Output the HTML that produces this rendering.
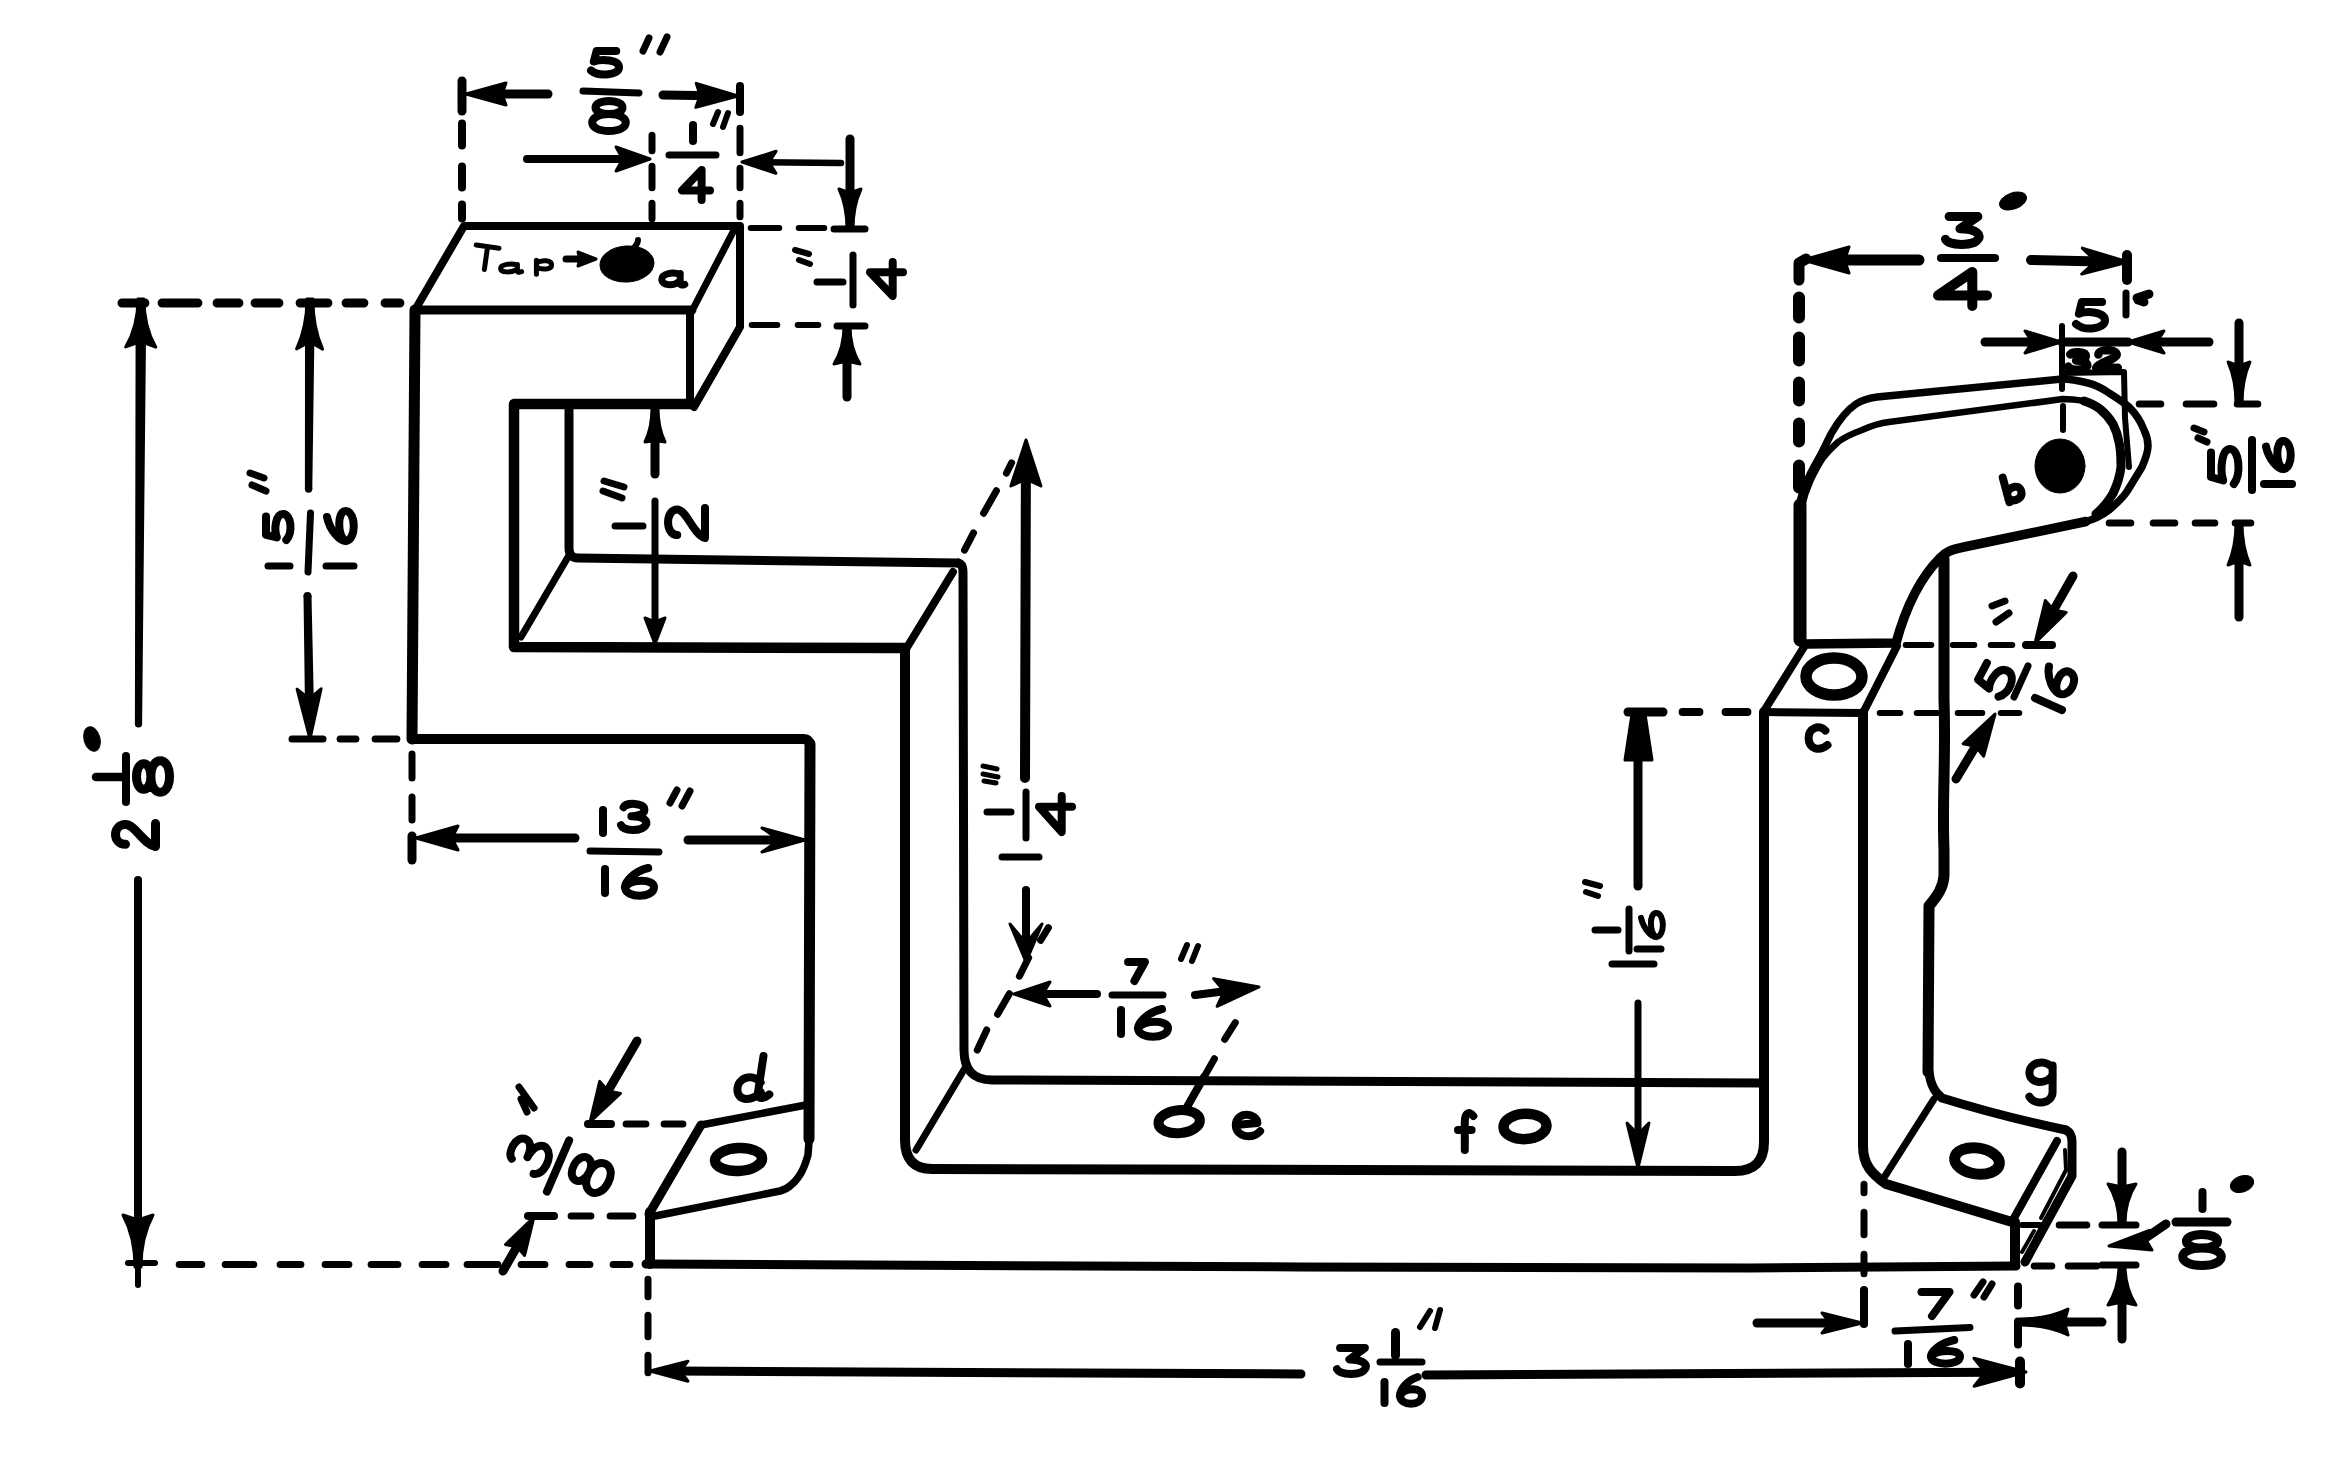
<!DOCTYPE html>
<html><head><meta charset="utf-8"><title>Bracket drawing</title>
<style>html,body{margin:0;padding:0;background:#fff;font-family:"Liberation Sans",sans-serif}svg{display:block}</style>
</head><body>
<svg width="2328" height="1460" viewBox="0 0 2328 1460" fill="none" stroke="#000" stroke-linecap="round" stroke-linejoin="round">
<rect x="0" y="0" width="2328" height="1460" fill="#fff" stroke="none"/>
<path d="M415 310L464 226L739 226" stroke-width="8" fill="none" />
<path d="M415 310L692 310" stroke-width="9" fill="none" />
<path d="M733 232L694 307" stroke-width="7" fill="none" />
<path d="M740 226L740 327L694 407" stroke-width="8" fill="none" />
<path d="M690 310L690 404" stroke-width="8" fill="none" />
<path d="M415 310L412 739" stroke-width="11" fill="none" />
<path d="M412 739L803 739Q810 739 810 746" stroke-width="10" fill="none" />
<path d="M810 744L809 1139" stroke-width="11" fill="none" />
<path d="M809 1137C809 1148 808 1152 808 1155C806 1162 804 1168 801 1173C798 1178 795 1182 791 1185C788 1188 784 1190 780 1191L655 1216" stroke-width="7.5" fill="none" />
<path d="M694 404L514 404L514 647L905 648" stroke-width="10.5" fill="none" />
<path d="M569 410L569 548Q569 558 578 558L958 563" stroke-width="9" fill="none" />
<path d="M568 557L521 637" stroke-width="7" fill="none" />
<path d="M953 572L906 649" stroke-width="8" fill="none" />
<path d="M958 563Q963 564 963 572L964 1050Q964 1080 992 1080L1762 1083" stroke-width="9" fill="none" />
<path d="M905 649L905 1140Q905 1169 932 1169L1735 1171Q1764 1171 1764 1142L1764 712" stroke-width="10" fill="none" />
<path d="M916 1150L965 1068" stroke-width="7" fill="none" />
<path d="M806 1105L701 1125" stroke-width="7.5" fill="none" />
<path d="M701 1125L649 1214" stroke-width="9" fill="none" />
<path d="M650 1212L650 1264" stroke-width="10" fill="none" />
<path d="M646 1264L1300 1267L1750 1268L2016 1266" stroke-width="9" fill="none" />
<ellipse cx="738.5" cy="1159.5" rx="23.5" ry="11.5" stroke-width="10.5" transform="rotate(-3 738 1159)"/>
<path d="M1764 712L1862 713" stroke-width="8" fill="none" />
<path d="M1764 711L1804 647M1897 646L1863 713" stroke-width="8" fill="none" />
<path d="M1863 713L1863 1146C1863 1165 1872 1174 1886 1184L2012 1222" stroke-width="10" fill="none" />
<ellipse cx="1834" cy="676.5" rx="28" ry="18.5" stroke-width="11.5"/>
<path d="M1800 640L1800 505" stroke-width="13" fill="none" />
<path d="M1800 507C1803 488 1808 480 1811 475L1831 434C1840 418 1850 408 1856 404C1862 400 1870 398 1877 397L2062 379C2072 379 2080 381 2088 383C2096 385 2102 388 2109 393C2117 398 2123 402 2129 407C2136 414 2141 422 2144 430C2147 436 2148 441 2148 446C2148 453 2145 460 2142 467L2127 491.5C2122 499 2115 505 2109 510C2100 517 2092 520 2084 522" stroke-width="7.5" fill="none" />
<path d="M2086 521.5L1964 547C1950 550 1946 552 1940 558C1920 578 1905 610 1896 643L1806 644Q1800 644 1800 638" stroke-width="9.5" fill="none" />
<path d="M1800 507C1804 488 1811 473 1826 449" stroke-width="10" fill="none" />
<path d="M1811 475C1820 460 1829 450 1838 442C1846 436 1854 433 1862 430C1871 426 1880 423 1889 422L2063 399C2071 399 2078 400 2084 401" stroke-width="6.5" fill="none" />
<path d="M2084 401C2090 403 2096 406 2100 409C2106 414 2110 419 2113 424C2116 430 2118 436 2119 442C2121 450 2121 458 2121 467C2120 476 2117 485 2113 493.5C2108 502 2103 508 2096 514" stroke-width="9" fill="none" />
<path d="M2062 326L2062 389M2063 406L2063 430" stroke-width="6" fill="none" />
<path d="M2062 373L2124 372L2125 418L2129 467" stroke-width="6" fill="none" />
<ellipse cx="2060" cy="466" rx="25" ry="27" fill="#000" stroke-width="1"/>
<path d="M1944 559L1944 700C1946 760 1942 800 1944 850L1944 876C1943 888 1938 895 1929 906L1928 1072" stroke-width="11" fill="none" />
<path d="M1929 1072Q1931 1090 1942 1098Q2000 1116 2066 1130" stroke-width="9" fill="none" />
<path d="M1934 1099L1885 1176" stroke-width="7" fill="none" />
<path d="M2066 1130Q2072 1133 2072 1142L2072 1176L2025 1262" stroke-width="9" fill="none" />
<path d="M2057 1141L2014 1218" stroke-width="8" fill="none" />
<path d="M2015 1222L2015 1264" stroke-width="10" fill="none" />
<path d="M2065 1150L2066 1170L2041 1218" stroke-width="4" fill="none" />
<path d="M2022 1225L2040 1225" stroke-width="6" fill="none" />
<path d="M2022 1252L2034 1231" stroke-width="4" fill="none" />
<ellipse cx="1977" cy="1161" rx="22.5" ry="13" stroke-width="11" transform="rotate(8 1977 1161)"/>
<ellipse cx="1179.2" cy="1121.7" rx="20.8" ry="11.5" stroke-width="10" transform="rotate(-5 1179 1122)"/>
<ellipse cx="1525" cy="1126.4" rx="21.5" ry="12.7" stroke-width="10.5" transform="rotate(-3 1525 1126)"/>
<path d="M1204 1077L1187 1107" stroke-width="8" fill="none" />
<ellipse cx="627" cy="264" rx="27" ry="18" fill="#000" stroke-width="1" transform="rotate(-4 627 264)"/>
<path d="M632 250C636 246 638 243 638 240" stroke-width="6" fill="none" />
<path d="M462 81L462 111" stroke-width="9.0"/>
<path d="M462.0 123.6L462.0 145.4M462.0 166.6L462.0 187.4M462.0 204.6L462.0 218.4" stroke-width="8.0"/>
<path d="M740 86L740 112" stroke-width="8.0"/>
<path d="M740.0 128.2L740.0 152.8M740.0 168.2L740.0 187.8M740.0 203.2L740.0 216.8" stroke-width="7.0"/>
<path d="M548 94L490.0 94.0" stroke-width="9.0"/>
<path d="M466.0 94.0L506.0 105.0L502.0 94.0L506.0 83.0Z" stroke-width="3" fill="#000"/>
<path d="M663 95L712.8 95.7" stroke-width="9.0"/>
<path d="M738.0 96.0L696.2 83.4L700.2 95.5L695.8 107.4Z" stroke-width="3" fill="#000"/>
<path d="M616.2 51.0L596.6 51.0L593.8 61.5C602.2 58.5 619.0 60.0 619.0 67.5C619.0 75.0 599.4 77.2 591.0 70.5" stroke-width="8"/>
<path d="M583 91L639 93" stroke-width="7.0"/>
<path d="M609.0 114.1C591.0 114.1 591.0 101.0 609.0 101.0C627.0 101.0 627.0 114.1 609.0 114.1C586.6 114.1 586.6 131.0 609.0 131.0C631.4 131.0 631.4 114.1 609.0 114.1" stroke-width="8"/>
<path d="M649 38L643 51M667 37L660 52" stroke-width="7"/>
<path d="M652.0 135.2L652.0 150.8M652.0 166.2L652.0 187.8M652.0 203.2L652.0 218.8" stroke-width="7.0"/>
<path d="M527 159L629.6 159.0" stroke-width="8.0"/>
<path d="M650.0 159.0L616.0 147.0L622.8 159.0L616.0 171.0Z" stroke-width="3" fill="#000"/>
<path d="M841 163L762.4 162.2" stroke-width="6.5"/>
<path d="M742.0 162.0L775.9 173.3L769.2 162.3L776.1 151.3Z" stroke-width="3" fill="#000"/>
<path d="M693.0 125.0L693.0 141.0" stroke-width="8"/>
<path d="M669 155L716 155" stroke-width="7.0"/>
<path d="M701.6 200.0L701.6 170.0L682.0 190.6L710.0 190.6" stroke-width="8"/>
<path d="M718 112L713 124M728 113L723 127" stroke-width="6"/>
<path d="M850 139L850.0 204.2" stroke-width="9.0"/>
<path d="M853.0 229.0Q853.0 206.1 861.0 189.0L850.0 192.8L839.0 189.0Q847.0 206.1 847.0 229.0Z" stroke-width="3" fill="#000"/>
<path d="M834 229L865 229" stroke-width="7.0"/>
<path d="M750.7 228.0L779.3 228.0M798.7 228.0L824.3 228.0" stroke-width="6.0"/>
<path d="M751.7 325.0L777.3 325.0M797.7 325.0L818.3 325.0" stroke-width="6.0"/>
<path d="M837 326L865 326" stroke-width="7.0"/>
<path d="M847 397L847.0 349.6" stroke-width="9.0"/>
<path d="M844.0 326.0Q844.0 347.8 834.0 364.0L847.0 361.1L860.0 364.0Q850.0 347.8 850.0 326.0Z" stroke-width="3" fill="#000"/>
<path d="M817 282L843 282" stroke-width="7.0"/>
<path d="M853 255L853 305" stroke-width="7.0"/>
<path d="M903.0 272.2L870.0 272.2L892.7 296.0L892.7 262.0" stroke-width="8"/>
<path d="M795 250L809 254M799 260L810 264" stroke-width="6"/>
<path d="M122.0 303.0L144.9 303.0M162.1 303.0L197.9 303.0M217.1 303.0L238.9 303.0M255.1 303.0L278.9 303.0M300.1 303.0L327.9 303.0M346.1 303.0L363.9 303.0M385.1 303.0L399.9 303.0" stroke-width="9.0"/>
<path d="M141.1 724.0L145.1 328.6L136.6 328.6L135.9 724.0Z" stroke-width="2" fill="#000"/>
<circle cx="138.5" cy="724.0" r="3.6" fill="#000" stroke="none"/>
<path d="M138.0 299.0Q137.9 326.3 125.7 346.9L140.8 341.5L155.7 347.1Q143.9 326.3 144.0 299.0Z" stroke-width="3" fill="#000"/>
<path d="M311.3 489.0L313.5 329.8L306.0 329.8L305.9 489.0Z" stroke-width="2" fill="#000"/>
<circle cx="308.6" cy="489.0" r="3.7" fill="#000" stroke="none"/>
<path d="M307.0 299.0Q306.8 327.4 296.6 348.9L309.7 341.8L322.6 349.1Q312.8 327.4 313.0 299.0Z" stroke-width="3" fill="#000"/>
<path d="M304.5 596.1L306.0 709.1L313.0 708.9L310.5 595.9Z" stroke-width="2" fill="#000"/>
<circle cx="307.5" cy="596.0" r="4.0" fill="#000" stroke="none"/>
<path d="M310.0 739.0L321.1 688.8L309.3 699.0L297.1 689.2Z" stroke-width="3" fill="#000"/>
<path d="M310.5 513L308 572" stroke-width="7.0"/>
<path d="M268 566L290 566" stroke-width="7.0"/>
<path d="M266.0 516.6L266.0 534.8L276.9 537.4C273.8 529.6 275.4 514.0 283.2 514.0C291.0 514.0 293.3 532.2 286.3 540.0" stroke-width="8"/>
<path d="M326 566L354 566" stroke-width="7.0"/>
<path d="M327.0 517.0C330.4 532.0 340.5 541.0 345.6 541.0C356.5 541.0 356.5 511.0 345.6 511.0C337.1 511.0 337.1 535.0 345.6 541.0" stroke-width="8"/>
<path d="M250 473L264 478M252 485L266 491" stroke-width="7"/>
<path d="M292 739L323 739" stroke-width="7.0"/>
<path d="M340.1 739.0L355.9 739.0M375.1 739.0L396.9 739.0" stroke-width="7.0"/>
<path d="M412.0 754.1L412.0 777.9M412.0 797.1L412.0 819.9M412.0 839.1L412.0 856.9" stroke-width="7.0"/>
<path d="M138 880L138 1240" stroke-width="8.0"/>
<path d="M141.0 1267.0Q141.0 1237.5 153.0 1215.0L138.0 1220.0L123.0 1215.0Q135.0 1237.5 135.0 1267.0Z" stroke-width="3" fill="#000"/>
<path d="M128 1263L155 1263" stroke-width="6.0"/>
<path d="M138 1262L138 1285" stroke-width="6.0"/>
<path d="M125.5 844.2C112.2 844.2 112.2 824.6 125.5 824.6C135.5 824.6 143.0 844.2 155.5 846.5L155.5 823.5" stroke-width="9"/>
<path d="M96 777L124 777" stroke-width="8.5"/>
<path d="M126 756L126 802" stroke-width="8.0"/>
<path d="M150.9 776.5C150.9 793.5 136.5 793.5 136.5 776.5C136.5 759.5 150.9 759.5 150.9 776.5C150.9 797.6 169.5 797.6 169.5 776.5C169.5 755.4 150.9 755.4 150.9 776.5" stroke-width="9"/>
<ellipse cx="92" cy="739" rx="8" ry="12.5" fill="#000" stroke-width="1" transform="rotate(-15 92 739)"/>
<path d="M179.2 1264.5L201.8 1264.5M225.2 1264.5L253.8 1264.5M280.1 1264.5L300.9 1264.5M325.1 1264.5L348.9 1264.5M371.1 1264.5L397.9 1264.5M422.1 1264.5L445.9 1264.5M467.1 1264.5L497.9 1264.5M521.1 1264.5L544.9 1264.5M569.1 1264.5L589.9 1264.5M613.1 1264.5L629.9 1264.5" stroke-width="7.0"/>
<path d="M575 838L441.2 838.0" stroke-width="9.0"/>
<path d="M416.0 838.0L458.0 850.0L451.7 838.0L458.0 826.0Z" stroke-width="3" fill="#000"/>
<path d="M688 840L779.2 840.0" stroke-width="9.0"/>
<path d="M805.0 840.0L762.0 828.0L779.2 840.0L762.0 852.0Z" stroke-width="3" fill="#000"/>
<path d="M412 836L412 860" stroke-width="9.0"/>
<path d="M603.0 810.0L603.0 833.0" stroke-width="8"/>
<path d="M623.6 807.2C626.2 802.4 644.4 802.4 644.4 809.7C644.4 815.4 634.0 816.2 631.4 816.2C644.4 816.2 648.3 821.9 645.7 825.1C641.8 831.6 623.6 831.6 621.0 825.1" stroke-width="8"/>
<path d="M590 851L659 852" stroke-width="7.0"/>
<path d="M605.0 869.0L605.0 893.0" stroke-width="8"/>
<path d="M648.2 868.0C633.7 871.5 625.0 882.0 625.0 887.2C625.0 898.6 654.0 898.6 654.0 887.2C654.0 878.5 630.8 878.5 625.0 887.2" stroke-width="8"/>
<path d="M677 790L670 803M690 791L682 806" stroke-width="7"/>
<path d="M655 474L655.0 429.2" stroke-width="9.0"/>
<path d="M652.0 408.0Q652.0 427.6 645.0 442.0L655.0 440.4L665.0 442.0Q658.0 427.6 658.0 408.0Z" stroke-width="3" fill="#000"/>
<path d="M655 501L655 625" stroke-width="7.0"/>
<path d="M655.0 644.0L665.0 618.0L655.0 621.9L645.0 618.0Z" stroke-width="3" fill="#000"/>
<path d="M615 526L643 526" stroke-width="7.0"/>
<path d="M677.2 535.0C665.0 535.0 665.0 509.5 677.2 509.5C686.5 509.5 693.4 535.0 705.0 538.0L705.0 508.0" stroke-width="8"/>
<path d="M604 481L624 487M603 491L622 498" stroke-width="7"/>
<path d="M1025 778L1025.9 467.6" stroke-width="10.0"/>
<path d="M1026.0 440.0L1010.9 486.0L1025.9 479.1L1040.9 486.0Z" stroke-width="3" fill="#000"/>
<path d="M1026 890L1026 940" stroke-width="8.0"/>
<path d="M1026.0 962.0L1042.0 924.0L1026.0 943.0L1010.0 924.0Z" stroke-width="3" fill="#000"/>
<path d="M964.5 550.2L973.5 532.8M983.6 513.3L996.4 490.7M1006.4 473.2L1011.6 462.8" stroke-width="7.0"/>
<path d="M977.3 1050.1L986.7 1029.9M997.6 1014.3L1009.4 993.7M1019.4 976.2L1028.6 957.8M1040.6 940.3L1048.4 927.7" stroke-width="7.0"/>
<path d="M1002 857L1039 857" stroke-width="7.0"/>
<path d="M987 812L1011 812" stroke-width="7.0"/>
<path d="M1026 792L1026 838" stroke-width="7.0"/>
<path d="M1072.0 806.8L1039.0 806.8L1061.7 832.0L1061.7 796.0" stroke-width="8"/>
<path d="M983 766L997 769M983 774L998 777M984 781L996 783" stroke-width="5"/>
<path d="M1097 994L1035.6 994.0" stroke-width="8.0"/>
<path d="M1014.0 994.0L1050.0 1006.0L1042.8 994.0L1050.0 982.0Z" stroke-width="3" fill="#000"/>
<path d="M1195 995L1232.8 990.3" stroke-width="8.0"/>
<path d="M1259.0 987.0L1213.6 978.6L1224.1 991.4L1217.1 1006.3Z" stroke-width="3" fill="#000"/>
<path d="M1128.1 962.0L1144.9 962.0L1134.4 981.0" stroke-width="8"/>
<path d="M1112 995L1163 995" stroke-width="7.0"/>
<path d="M1121.0 1010.0L1121.0 1034.0" stroke-width="8"/>
<path d="M1162.0 1009.0C1147.0 1012.5 1138.0 1023.0 1138.0 1028.2C1138.0 1039.6 1168.0 1039.6 1168.0 1028.2C1168.0 1019.5 1144.0 1019.5 1138.0 1028.2" stroke-width="8"/>
<path d="M1187 945L1181 959M1198 946L1192 961" stroke-width="6"/>
<path d="M1235.3 1022.7L1224.7 1039.3M1214.4 1058.7L1205.6 1074.3" stroke-width="7.0"/>
<path d="M1628 712L1663 712" stroke-width="9.0"/>
<path d="M1682.6 712.0L1699.4 712.0M1725.6 712.0L1747.4 712.0" stroke-width="8.0"/>
<path d="M1879.7 713.0L1900.3 713.0M1916.7 713.0L1937.3 713.0M1957.7 713.0L1982.3 713.0M2000.7 713.0L2019.3 713.0" stroke-width="6.0"/>
<path d="M1632 714L1645 714L1652 760L1625 760Z" stroke-width="3" fill="#000" />
<path d="M1638 760L1638 886" stroke-width="9.0"/>
<path d="M1638 1003L1638.0 1141.0" stroke-width="7.0"/>
<path d="M1638.0 1168.0L1649.0 1123.0L1638.0 1134.2L1627.0 1123.0Z" stroke-width="3" fill="#000"/>
<path d="M1595 930L1618 930" stroke-width="7.0"/>
<path d="M1629 909L1629 951" stroke-width="7.0"/>
<path d="M1637 949L1661 949" stroke-width="7.0"/>
<path d="M1641.0 917.8C1643.8 929.8 1652.0 937.0 1656.1 937.0C1665.1 937.0 1665.1 913.0 1656.1 913.0C1649.2 913.0 1649.2 932.2 1656.1 937.0" stroke-width="6"/>
<path d="M1612 964L1654 964" stroke-width="7.0"/>
<path d="M1585 882L1600 886M1586 892L1598 896" stroke-width="6"/>
<path d="M1905.7 645.0L1931.3 645.0M1952.7 645.0L1974.3 645.0M1990.7 645.0L2012.3 645.0" stroke-width="6.0"/>
<path d="M2073 576L2047.4 621.1" stroke-width="9.0"/>
<path d="M2035.0 643.0L2066.2 612.4L2053.6 610.1L2045.3 600.5Z" stroke-width="3" fill="#000"/>
<path d="M1956 779L1982.0 735.6" stroke-width="9.0"/>
<path d="M1995.0 714.0L1963.1 743.8L1975.6 746.4L1983.7 756.2Z" stroke-width="3" fill="#000"/>
<path d="M2026 645L2052 645" stroke-width="8.0"/>
<path d="M1799.0 297.4L1799.0 317.6M1799.0 337.4L1799.0 360.6M1799.0 382.4L1799.0 400.6M1799.0 423.4L1799.0 441.6M1799.0 465.4L1799.0 487.6" stroke-width="12.0"/>
<path d="M1799 280L1799 263L1806 259" stroke-width="11" fill="none" />
<path d="M1919 260L1830.6 260.0" stroke-width="11.0"/>
<path d="M1803.0 260.0L1849.0 273.0L1844.4 260.0L1849.0 247.0Z" stroke-width="3" fill="#000"/>
<path d="M2031 260L2100.4 261.4" stroke-width="10.0"/>
<path d="M2128.0 262.0L2082.3 248.1L2095.8 261.3L2081.7 274.0Z" stroke-width="3" fill="#000"/>
<path d="M2127 255L2127 280" stroke-width="10.0"/>
<path d="M1949.1 216.5L1977.9 216.5L1959.9 228.8C1977.9 228.8 1981.5 235.8 1977.9 239.2C1974.3 246.2 1949.1 246.2 1945.5 239.2" stroke-width="9"/>
<path d="M1941 258L1995 258" stroke-width="8.0"/>
<path d="M1972.3 306.0L1972.3 272.0L1938.0 295.4L1987.0 295.4" stroke-width="10"/>
<ellipse cx="2013" cy="201" rx="14" ry="8" fill="#000" stroke-width="1" transform="rotate(-20 2013 201)"/>
<path d="M1985 342L2039.4 342.0" stroke-width="9.0"/>
<path d="M2061.0 342.0L2025.0 331.0L2032.2 342.0L2025.0 353.0Z" stroke-width="3" fill="#000"/>
<path d="M2209 342L2149.6 342.0" stroke-width="9.0"/>
<path d="M2128.0 342.0L2164.0 353.0L2156.8 342.0L2164.0 331.0Z" stroke-width="3" fill="#000"/>
<path d="M2102.1 302.0L2081.8 302.0L2078.9 313.8C2087.6 310.4 2105.0 312.1 2105.0 320.6C2105.0 329.0 2084.7 331.5 2076.0 323.9" stroke-width="8"/>
<path d="M2070.2 354.4C2072.2 351.2 2085.8 351.2 2085.8 356.1C2085.8 359.9 2078.0 360.5 2076.1 360.5C2085.8 360.5 2088.7 364.3 2086.8 366.5C2083.8 370.8 2070.2 370.8 2068.2 366.5" stroke-width="8.5"/>
<path d="M2098.4 354.6C2098.4 348.8 2116.7 348.8 2116.7 354.6C2116.7 359.0 2098.4 362.3 2096.2 367.8L2117.8 367.8" stroke-width="8.5"/>
<path d="M2062 342L2128 342" stroke-width="9.0"/>
<path d="M2126 293L2126 315" stroke-width="7"/>
<path d="M2137 298L2149 294M2138 300L2144 302" stroke-width="9"/>
<path d="M2239 323L2239.0 378.0" stroke-width="9.0"/>
<path d="M2242.0 404.0Q2242.0 380.0 2250.0 362.0L2239.0 366.0L2228.0 362.0Q2236.0 380.0 2236.0 404.0Z" stroke-width="3" fill="#000"/>
<path d="M2139.2 404.0L2160.8 404.0M2186.2 404.0L2213.8 404.0M2237.2 404.0L2257.8 404.0" stroke-width="7.0"/>
<path d="M2109.2 523.0L2130.8 523.0M2153.2 523.0L2174.8 523.0M2195.2 523.0L2214.8 523.0M2235.2 523.0L2250.8 523.0" stroke-width="7.0"/>
<path d="M2239 617L2239.0 549.0" stroke-width="9.0"/>
<path d="M2236.0 523.0Q2236.0 547.0 2228.0 565.0L2239.0 561.0L2250.0 565.0Q2242.0 547.0 2242.0 523.0Z" stroke-width="3" fill="#000"/>
<path d="M588 1124L611 1124" stroke-width="8.0"/>
<path d="M626.1 1124.0L645.9 1124.0M664.1 1124.0L682.9 1124.0" stroke-width="7.0"/>
<path d="M637 1041L602.0 1101.2" stroke-width="9.0"/>
<path d="M590.0 1122.0L620.5 1093.4L608.1 1090.9L599.7 1081.4Z" stroke-width="3" fill="#000"/>
<path d="M528 1216L554 1216" stroke-width="8.0"/>
<path d="M571.1 1216.0L590.9 1216.0M610.1 1216.0L632.9 1216.0" stroke-width="7.0"/>
<path d="M503 1271L522.6 1236.8" stroke-width="9.0"/>
<path d="M534.0 1217.0L505.5 1244.5L517.0 1246.7L524.6 1255.4Z" stroke-width="3" fill="#000"/>
<path d="M648.0 1279.2L648.0 1296.8M648.0 1315.2L648.0 1336.8M648.0 1355.2L648.0 1372.8" stroke-width="7.0"/>
<path d="M1301 1374L672.8 1371.1" stroke-width="9.0"/>
<path d="M650.0 1371.0L688.0 1381.2L680.4 1371.1L688.0 1361.2Z" stroke-width="3" fill="#000"/>
<path d="M1426 1375L1994.8 1372.2" stroke-width="9.0"/>
<path d="M2026.0 1372.0L1973.9 1358.3L1985.4 1372.2L1974.1 1386.3Z" stroke-width="3" fill="#000"/>
<path d="M1340.1 1348.0L1364.9 1348.0L1349.4 1359.4C1364.9 1359.4 1368.0 1365.9 1364.9 1369.1C1361.8 1375.6 1340.1 1375.6 1337.0 1369.1" stroke-width="8"/>
<path d="M1395.5 1332.5L1395.5 1355.5" stroke-width="9"/>
<path d="M1380 1362L1422 1362" stroke-width="7.0"/>
<path d="M1384.5 1382.0L1384.5 1403.0" stroke-width="8"/>
<path d="M1417.6 1377.0C1406.6 1380.4 1400.0 1390.5 1400.0 1395.6C1400.0 1406.5 1422.0 1406.5 1422.0 1395.6C1422.0 1387.1 1404.4 1387.1 1400.0 1395.6" stroke-width="8"/>
<path d="M1430 1311L1420 1327M1440 1310L1435 1328" stroke-width="6"/>
<path d="M1864.0 1184.2L1864.0 1192.8M1864.0 1212.2L1864.0 1234.8M1864.0 1254.2L1864.0 1273.8" stroke-width="7.0"/>
<path d="M1864 1290L1864 1324" stroke-width="8.0"/>
<path d="M2018.0 1286.6L2018.0 1305.4M2018.0 1321.6L2018.0 1344.4" stroke-width="8.0"/>
<path d="M2020.0 1361.5L2020.0 1383.5" stroke-width="10.0"/>
<path d="M1757 1323L1838.0 1323.0" stroke-width="9.0"/>
<path d="M1862.0 1323.0L1822.0 1313.0L1830.0 1323.0L1822.0 1333.0Z" stroke-width="3" fill="#000"/>
<path d="M2102 1322L2049.6 1322.0" stroke-width="9.0"/>
<path d="M2020.0 1325.0Q2047.3 1325.0 2068.0 1335.0L2064.3 1322.0L2068.0 1309.0Q2047.3 1319.0 2020.0 1319.0Z" stroke-width="3" fill="#000"/>
<path d="M1921.5 1292.0L1949.5 1292.0L1932.0 1316.0" stroke-width="8"/>
<path d="M1895 1331L1970 1327.5" stroke-width="7.0"/>
<path d="M1908.0 1344.0L1908.0 1364.0" stroke-width="8"/>
<path d="M1954.2 1340.0C1939.7 1343.0 1931.0 1352.0 1931.0 1356.5C1931.0 1366.2 1960.0 1366.2 1960.0 1356.5C1960.0 1349.0 1936.8 1349.0 1931.0 1356.5" stroke-width="8"/>
<path d="M1974 1295L1983 1282M1984 1297L1992 1284" stroke-width="7"/>
<path d="M2122 1152L2122.0 1199.2" stroke-width="9.0"/>
<path d="M2125.0 1224.0Q2125.0 1201.1 2136.0 1184.0L2122.0 1187.0L2108.0 1184.0Q2119.0 1201.1 2119.0 1224.0Z" stroke-width="3" fill="#000"/>
<path d="M2102 1225L2136 1225" stroke-width="7.0"/>
<path d="M2059.2 1225.0L2086.8 1225.0" stroke-width="7.0"/>
<path d="M2034.2 1266.0L2051.8 1266.0M2068.2 1266.0L2096.8 1266.0" stroke-width="7.0"/>
<path d="M2102 1265L2136 1265" stroke-width="7.0"/>
<path d="M2122 1339L2122.0 1289.8" stroke-width="9.0"/>
<path d="M2119.0 1265.0Q2119.0 1287.9 2108.0 1305.0L2122.0 1302.0L2136.0 1305.0Q2125.0 1287.9 2125.0 1265.0Z" stroke-width="3" fill="#000"/>
<path d="M2202.5 1192.0L2202.5 1209.0" stroke-width="8"/>
<path d="M2176 1222L2227 1222" stroke-width="9.0"/>
<path d="M2202.0 1248.1C2181.3 1248.1 2181.3 1234.5 2202.0 1234.5C2222.7 1234.5 2222.7 1248.1 2202.0 1248.1C2176.3 1248.1 2176.3 1265.5 2202.0 1265.5C2227.7 1265.5 2227.7 1248.1 2202.0 1248.1" stroke-width="9"/>
<ellipse cx="2242" cy="1184" rx="12" ry="8" fill="#000" stroke-width="1" transform="rotate(-20 2242 1184)"/>
<path d="M2166 1224L2144 1239" stroke-width="9" fill="none" />
<path d="M2109.0 1246.0L2152.0 1250.1L2146.4 1240.7L2149.2 1230.3Z" stroke-width="3" fill="#000"/>
<path d="M476.2 245.0L499.0 248.2M487.6 246.6L484.4 269.4" stroke-width="5"/>
<path d="M517.4 265.2C511.1 262.8 500.6 264.4 500.6 268.4C500.6 272.5 511.1 273.3 517.4 269.2M517.4 264.4L517.4 270.9C517.4 272.5 519.5 272.5 521.6 271.7" stroke-width="5"/>
<path d="M536.4 260.2L536.4 274.2M536.4 263.0C542.1 259.2 551.6 260.2 551.6 264.9C551.6 269.6 542.1 270.5 536.4 266.8" stroke-width="5"/>
<path d="M566 259L585.2 259.0" stroke-width="7.0"/>
<path d="M596.0 259.0L578.0 252.0L579.8 259.0L578.0 266.0Z" stroke-width="3" fill="#000"/>
<path d="M680.2 274.8C673.3 271.2 661.8 273.6 661.8 279.6C661.8 285.5 673.3 286.7 680.2 280.8M680.2 273.6L680.2 283.1C680.2 285.5 682.5 285.5 684.8 284.3" stroke-width="7"/>
<path d="M2002.7 477.5L2009.4 502.2M2006.9 493.0C2010.4 485.4 2019.5 484.6 2021.2 490.8C2023.3 498.5 2015.0 502.4 2008.5 499.1" stroke-width="8"/>
<path d="M1825.4 730.6C1819.1 723.4 1808.6 728.8 1808.6 737.8C1808.6 748.6 1819.1 752.2 1827.5 745.0" stroke-width="8"/>
<path d="M760.6 1082.4C751.9 1072.8 737.4 1077.6 737.4 1089.6C737.4 1101.6 751.9 1101.6 760.6 1092.0M763.5 1056.0L757.7 1094.4C757.7 1099.2 763.5 1099.2 769.3 1094.4" stroke-width="8"/>
<path d="M1235.8 1125.1L1257.4 1123.0C1257.4 1112.8 1235.8 1110.8 1235.8 1125.1C1235.8 1137.4 1252.0 1139.5 1260.1 1131.2" stroke-width="8"/>
<path d="M1473.3 1116.0C1468.2 1110.0 1464.8 1114.0 1464.8 1122.0L1464.8 1150.0M1458.0 1130.0L1471.6 1130.0" stroke-width="8"/>
<path d="M2052.6 1067.8C2043.9 1058.2 2029.4 1063.0 2029.4 1072.6C2029.4 1084.6 2046.8 1084.6 2052.6 1075.0M2052.6 1065.4L2052.6 1091.8C2052.6 1103.8 2035.2 1106.2 2029.4 1096.6" stroke-width="8"/>
<path d="M2211.0 452.5L2211.0 477.0L2223.2 480.5C2219.8 470.0 2221.5 449.0 2230.2 449.0C2239.0 449.0 2241.6 473.5 2233.8 484.0" stroke-width="8"/>
<path d="M2252 440L2252 490" stroke-width="8.0"/>
<path d="M2264 484L2292 484" stroke-width="8.0"/>
<path d="M2266.0 446.6C2269.1 460.6 2278.5 469.0 2283.2 469.0C2293.3 469.0 2293.3 441.0 2283.2 441.0C2275.4 441.0 2275.4 463.4 2283.2 469.0" stroke-width="8"/>
<path d="M2194 428L2204 432M2198 438L2207 442" stroke-width="7"/>
<path d="M1986.9 663.0L1978.1 679.6L1989.2 688.6C1989.4 679.6 1998.8 666.2 2007.6 670.9C2016.5 675.6 2010.2 693.7 1998.5 696.6M2049.0 666.5C2046.7 678.9 2053.4 690.6 2058.4 693.3C2069.3 699.1 2080.6 677.9 2069.7 672.1C2061.3 667.6 2052.3 684.6 2058.4 693.3" stroke-width="8"/>
<path d="M2014 697L2028 666" stroke-width="7.0"/>
<path d="M2035 698L2062 710" stroke-width="8.0"/>
<path d="M1992 606L2005 601M1996 622L2009 613" stroke-width="7"/>
<path d="M511.7 1158.8C506.7 1152.8 516.6 1134.3 526.1 1139.3C533.5 1143.3 528.9 1154.4 527.5 1157.1C534.6 1143.8 544.1 1143.8 546.9 1148.7C553.3 1157.2 543.4 1175.7 533.6 1173.9M569.1 1140.4L546.9 1191.6M588.9 1172.9C580.9 1187.8 566.1 1180.0 574.0 1165.0C582.0 1150.0 596.8 1157.9 588.9 1172.9C579.0 1191.5 598.0 1201.7 608.0 1183.0C617.9 1164.4 598.8 1154.2 588.9 1172.9" stroke-width="8"/>
<path d="M519 1087L534 1108M521 1099L527 1112" stroke-width="7"/>
</svg>
</body></html>
